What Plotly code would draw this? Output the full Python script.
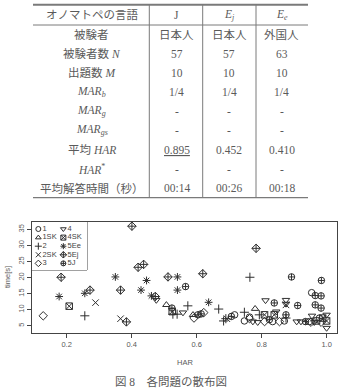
import plotly.graph_objects as go

W, H = 341, 389

# ---------------- table data ----------------
header = ["オノマトペの言語", "J", "<i>E<sub>j</sub></i>", "<i>E<sub>e</sub></i>"]
row_labels = ["被験者", "被験者数 <i>N</i>", "出題数 <i>M</i>",
              "<i>MAR<sub>b</sub></i>", "<i>MAR<sub>g</sub></i>", "<i>MAR<sub>gs</sub></i>",
              "平均 <i>HAR</i>", "<i>HAR</i><sup>*</sup>", "平均解答時間（秒）"]
col_J = ["日本人", "57", "10", "1/4", "-", "-", "<u>0.895</u>", "-", "00:14"]
col_Ej = ["日本人", "57", "10", "1/4", "-", "-", "0.452", "-", "00:26"]
col_Ee = ["外国人", "63", "10", "1/4", "-", "-", "0.410", "-", "00:18"]

# ---------------- scatter data (HAR, time[s]) ----------------
s1_x = [0.717, 0.747, 0.763, 0.834, 0.947, 0.954, 0.978, 0.870]
s1_y = [8.4, 6.5, 7.7, 6.3, 6.3, 15.3, 7.4, 6.5]
s1sk_x = [0.507, 0.589, 0.780]
s1sk_y = [11.5, 8.4, 10.3]
s2_x = [0.256, 0.527, 0.540, 0.573, 0.668, 0.764, 0.683, 0.747, 0.793, 0.875, 0.690]
s2_y = [8.1, 8.6, 8.6, 11.2, 10.2, 20.1, 6.5, 9.2, 8.4, 7.4, 7.2]
s2sk_x = [0.289, 0.366, 0.693, 0.875]
s2sk_y = [12.2, 7.2, 7.2, 11.5]
s3_x = [0.128, 0.592, 0.622, 0.763, 0.809, 0.855, 0.952, 0.983]
s3_y = [8.1, 7.4, 9.1, 7.2, 6.3, 6.3, 6.1, 6.1]
s4_x = [0.476, 0.558, 0.812, 0.875, 0.875, 0.845, 0.773, 0.788, 0.908, 0.921, 0.955, 0.962, 1.0, 1.0]
s4_y = [13.0, 9.1, 12.9, 13.0, 11.8, 9.4, 6.3, 6.1, 6.3, 6.3, 8.1, 6.1, 8.4, 4.3]
s4sk_x = [0.208, 0.525, 0.809, 0.839, 0.969, 0.988, 1.0]
s4sk_y = [11.1, 9.4, 8.4, 8.4, 6.5, 7.4, 6.5]
s5ee_x = [0.177, 0.256, 0.350, 0.429, 0.446, 0.461, 0.541, 0.541, 0.637]
s5ee_y = [14.1, 15.1, 20.2, 16.1, 19.1, 14.3, 20.2, 16.1, 12.3]
s5ej_x = [0.183, 0.272, 0.366, 0.384, 0.401, 0.420, 0.437, 0.473, 0.512, 0.619, 0.783]
s5ej_y = [20.1, 16.1, 16.1, 6.2, 36.0, 23.2, 24.1, 14.1, 20.2, 21.2, 29.1]
s5j_x = [0.566, 0.524, 0.604, 0.614, 0.707, 0.824, 0.839, 0.875, 0.892, 0.911,
         0.935, 0.965, 0.983, 0.984, 0.965, 0.983]
s5j_y = [17.2, 10.5, 8.4, 8.7, 7.9, 6.9, 12.1, 8.4, 20.2, 11.3,
         6.3, 14.4, 14.3, 19.1, 11.5, 10.5]

series_names = ["1", "1SK", "2", "2SK", "3", "4", "4SK", "5Ee", "5Ej", "5J"]
series_x = [s1_x, s1sk_x, s2_x, s2sk_x, s3_x, s4_x, s4sk_x, s5ee_x, s5ej_x, s5j_x]
series_y = [s1_y, s1sk_y, s2_y, s2sk_y, s3_y, s4_y, s4sk_y, s5ee_y, s5ej_y, s5j_y]
symbols = ["circle-open", "triangle-up-open", "cross-thin-open", "x-thin-open", "diamond-open",
           "triangle-down-open", "square-x-open", "asterisk-open", "diamond-cross-open",
           "circle-cross-open"]

x_ticks = [0.2, 0.4, 0.6, 0.8, 1.0]
y_ticks = [5, 10, 15, 20, 25, 30, 35]


def px(x):
    return x / W


def py(y):
    return 1 - y / H


MARK = "#2e2e2e"
TXT = "#5a5a5a"
LINE = "#7a7a7a"
SERIF = "Liberation Serif, Noto Sans CJK JP"
SANS = "Liberation Sans, Arial"

fig = go.Figure()

for name, xs, ys, sym in zip(series_names, series_x, series_y, symbols):
    fig.add_trace(go.Scatter(
        x=xs, y=ys, mode="markers", name=name, showlegend=False,
        marker=dict(symbol=sym, size=6.5, color=MARK, line=dict(color=MARK, width=1)),
        xaxis="x", yaxis="y"))

# manual compact legend (two columns) on its own axes
for i, (name, sym) in enumerate(zip(series_names, symbols)):
    col, row = i // 5, i % 5
    fig.add_trace(go.Scatter(
        x=[0.115 + col * 0.455], y=[1 - (0.146 + row * 0.179)],
        mode="markers+text", text=[name], textposition="middle right",
        textfont=dict(family=SANS, size=7.5, color="#444"),
        marker=dict(symbol=sym, size=5, color=MARK, line=dict(color=MARK, width=1)),
        showlegend=False, xaxis="x2", yaxis="y2", hoverinfo="skip"))

shapes = []
# plot legend box
shapes.append(dict(type="rect", xref="paper", yref="paper",
                   x0=px(32), x1=px(87), y0=py(270), y1=py(222),
                   line=dict(color="#444", width=1), fillcolor="white", layer="below"))

# table rules
TL, TR = 33, 308
top_y, head_y, bot_y = 4.7, 25, 197.7
shapes.append(dict(type="line", xref="paper", yref="paper", x0=px(TL), x1=px(TR),
                   y0=py(top_y), y1=py(top_y), line=dict(color=LINE, width=2)))
shapes.append(dict(type="line", xref="paper", yref="paper", x0=px(TL), x1=px(TR),
                   y0=py(head_y), y1=py(head_y), line=dict(color=LINE, width=1)))
shapes.append(dict(type="line", xref="paper", yref="paper", x0=px(TL), x1=px(TR),
                   y0=py(bot_y), y1=py(bot_y), line=dict(color=LINE, width=1.3)))
for vx in [149.3, 202.7, 256]:
    shapes.append(dict(type="line", xref="paper", yref="paper", x0=px(vx), x1=px(vx),
                       y0=py(top_y), y1=py(bot_y), line=dict(color=LINE, width=1)))

annotations = []
col_centers = [91.7, 176.7, 229.3, 281.7]
for c, txt in zip(col_centers, header):
    annotations.append(dict(x=px(c), y=py(15), xref="paper", yref="paper", text=txt,
                            showarrow=False, xanchor="center", yanchor="middle",
                            font=dict(family=SERIF, size=11.5, color=TXT)))
columns = [row_labels, col_J, col_Ej, col_Ee]
for c, colvals in zip(col_centers, columns):
    for r, txt in enumerate(colvals):
        yc = 34.5 + r * 19.2
        annotations.append(dict(x=px(c), y=py(yc), xref="paper", yref="paper", text=txt,
                                showarrow=False, xanchor="center", yanchor="middle",
                                font=dict(family=SERIF, size=11.5, color=TXT)))

# axis titles
annotations.append(dict(x=px(185), y=py(362.5), xref="paper", yref="paper", text="HAR",
                        showarrow=False, xanchor="center", yanchor="middle",
                        font=dict(family=SANS, size=7.5, color=TXT)))
annotations.append(dict(x=px(7), y=py(277), xref="paper", yref="paper", text="time[s]",
                        showarrow=False, xanchor="center", yanchor="middle", textangle=-90,
                        font=dict(family=SANS, size=7.5, color=TXT)))
# caption
annotations.append(dict(x=px(171), y=py(381.5), xref="paper", yref="paper",
                        text="図 8　各問題の散布図",
                        showarrow=False, xanchor="center", yanchor="middle",
                        font=dict(family=SERIF, size=11.5, color=TXT)))

fig.update_layout(
    width=W, height=H, margin=dict(l=0, r=0, t=0, b=0),
    paper_bgcolor="white", plot_bgcolor="white", showlegend=False,
    shapes=shapes, annotations=annotations,
    xaxis=dict(domain=[px(32), px(337)], range=[0.0935, 1.032], tickvals=x_ticks,
               ticktext=[f"{v:.1f}" for v in x_ticks], ticks="outside", ticklen=4,
               tickcolor="#444", showline=True, mirror=True, linecolor="#444", linewidth=1,
               showgrid=False, zeroline=False,
               tickfont=dict(family=SANS, size=7.5, color=TXT), anchor="y"),
    yaxis=dict(domain=[py(332.5), py(222)], range=[2.9, 37.3], tickvals=y_ticks,
               ticks="outside", ticklen=4, tickangle=-90, tickcolor="#444",
               showline=True, mirror=True, linecolor="#444", linewidth=1,
               showgrid=False, zeroline=False,
               tickfont=dict(family=SANS, size=7.5, color=TXT), anchor="x"),
    xaxis2=dict(domain=[px(32), px(87)], range=[0, 1], visible=False, anchor="y2"),
    yaxis2=dict(domain=[py(270), py(222)], range=[0, 1], visible=False, anchor="x2"),
)

fig.write_html("out.html")
